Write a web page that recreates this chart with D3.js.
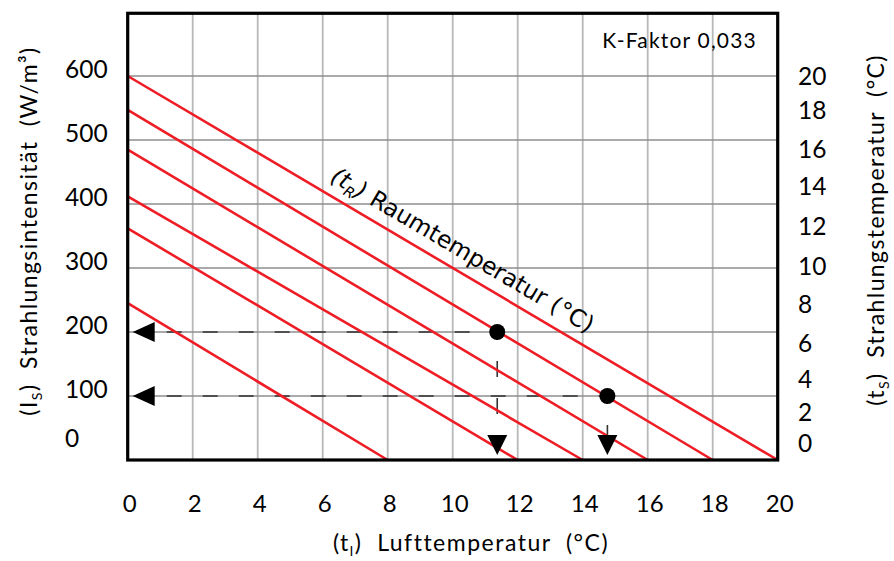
<!DOCTYPE html>
<html>
<head>
<meta charset="utf-8">
<script src="https://cdn.jsdelivr.net/npm/d3@7"></script>
<style>
	body { margin: 0; background: #fff; }
	text { font-family: Lato, 'Open Sans', sans-serif; fill: #000; }
	text.diag { font-family: 'DejaVu Sans', sans-serif; }
</style>
</head>
<body>
<script>
// room temperature lines: each runs from (0, radiation) down to (roomTemp, 0)
const roomTemps = [8, 12, 14, 16, 18, 20];
const radiationAtZero = [245, 362, 412, 485, 547, 600];

// the two read-off examples
const pointAirTemp = [11.37, 14.76];
const pointRadiation = [200, 100];

const xTicks = [0, 2, 4, 6, 8, 10, 12, 14, 16, 18, 20];
const yGrid = [100, 200, 300, 400, 500, 600];
const leftTickLabels = ['0', '100', '200', '300', '400', '500', '600'];
const leftTickAt = [23, 100, 200, 300, 400, 500, 600];
const rightTickLabels = ['0', '2', '4', '6', '8', '10', '12', '14', '16', '18', '20'];
const rightTickAt = [27, 75, 127, 183, 244, 303, 366, 428, 486, 547, 600];

const width = 894, height = 561;

let svg = d3.select('body').append('svg')
	.attr('width', width)
	.attr('height', height);

let x = d3.scaleLinear().domain([0, 20]).range([127.7, 777.7]);
let y = d3.scaleLinear().domain([0, 600]).range([460, 76]);
const yTop = y(698);

// grid
svg.append('g').selectAll('line')
	.data(xTicks.slice(1, -1))
	.enter()
	.append('line')
	.attr('x1', d => x(d)).attr('x2', d => x(d))
	.attr('y1', yTop).attr('y2', y(0))
	.attr('stroke', '#b8b8b8')
	.attr('stroke-width', 1.8);

svg.append('g').selectAll('line')
	.data(yGrid)
	.enter()
	.append('line')
	.attr('x1', x(0)).attr('x2', x(20))
	.attr('y1', d => y(d)).attr('y2', d => y(d))
	.attr('stroke', '#8e8e8e')
	.attr('stroke-width', 1.5);

// dashed read-off lines
let points = pointAirTemp.map((t, i) => ({ t: t, s: pointRadiation[i] }));

svg.append('g').selectAll('line')
	.data(points)
	.enter()
	.append('line')
	.attr('x1', x(0) + 27).attr('x2', d => x(d.t))
	.attr('y1', d => y(d.s)).attr('y2', d => y(d.s))
	.attr('stroke', '#333')
	.attr('stroke-width', 1.6)
	.attr('stroke-dasharray', '15,21')
	.attr('stroke-dashoffset', 24);

svg.append('g').selectAll('line')
	.data(points)
	.enter()
	.append('line')
	.attr('x1', d => x(d.t)).attr('x2', d => x(d.t))
	.attr('y1', d => y(d.s)).attr('y2', y(0) - 22)
	.attr('stroke', '#333')
	.attr('stroke-width', 1.6)
	.attr('stroke-dasharray', '16,21')
	.attr('stroke-dashoffset', 8);

// red lines
let lines = roomTemps.map((t, i) => ({ t: t, s: radiationAtZero[i] }));

svg.append('g').selectAll('line')
	.data(lines)
	.enter()
	.append('line')
	.attr('x1', x(0)).attr('y1', d => y(d.s))
	.attr('x2', d => x(d.t)).attr('y2', y(0))
	.attr('stroke', '#ee1d25')
	.attr('stroke-width', 2.6);

// arrow heads and dots
svg.append('g').selectAll('path')
	.data(points)
	.enter()
	.append('path')
	.attr('d', d => `M${x(0) + 5},${y(d.s)} L${x(0) + 27},${y(d.s) - 10} L${x(0) + 27},${y(d.s) + 10} Z`)
	.attr('fill', '#000');

svg.append('g').selectAll('path')
	.data(points)
	.enter()
	.append('path')
	.attr('d', d => `M${x(d.t)},${y(0) - 5} L${x(d.t) - 10},${y(0) - 25} L${x(d.t) + 10},${y(0) - 25} Z`)
	.attr('fill', '#000');

svg.append('g').selectAll('circle')
	.data(points)
	.enter()
	.append('circle')
	.attr('cx', d => x(d.t))
	.attr('cy', d => y(d.s))
	.attr('r', 8)
	.attr('fill', '#000');

// frame
svg.append('rect')
	.attr('x', x(0)).attr('y', yTop)
	.attr('width', x(20) - x(0))
	.attr('height', y(0) - yTop)
	.attr('fill', 'none')
	.attr('stroke', '#000')
	.attr('stroke-width', 3.2);

// tick labels
svg.append('g').selectAll('text')
	.data(xTicks)
	.enter()
	.append('text')
	.attr('x', d => x(d) + 2)
	.attr('y', 512)
	.attr('text-anchor', 'middle')
	.attr('font-size', 24)
	.text(d => d);

svg.append('g').selectAll('text')
	.data(leftTickLabels)
	.enter()
	.append('text')
	.attr('x', 65)
	.attr('y', (d, i) => y(leftTickAt[i]) + 2)
	.attr('font-size', 24.5)
	.text(d => d);

svg.append('g').selectAll('text')
	.data(rightTickLabels)
	.enter()
	.append('text')
	.attr('x', 798)
	.attr('y', (d, i) => y(rightTickAt[i]) + 9)
	.attr('font-size', 24.5)
	.text(d => d);

svg.append('text')
	.attr('x', 757)
	.attr('y', 48)
	.attr('text-anchor', 'end')
	.attr('font-size', 21)
	.attr('letter-spacing', 1.2)
	.text('K-Faktor 0,033');

// axis titles
function titleWithSub(sel, pre, sub, post) {
	sel.append('tspan').text(pre);
	sel.append('tspan').attr('font-size', '0.62em').attr('dy', 5).text(sub);
	sel.append('tspan').attr('dy', -5).text(post);
}

let xTitle = svg.append('text')
	.attr('x', 471)
	.attr('y', 551)
	.attr('text-anchor', 'middle')
	.attr('font-size', 23)
	.attr('letter-spacing', 1.5)
	.attr('xml:space', 'preserve');
titleWithSub(xTitle, '(t', 'l', ')  Lufttemperatur  (°C)');

let leftTitle = svg.append('text')
	.attr('transform', 'translate(37,231) rotate(-90)')
	.attr('text-anchor', 'middle')
	.attr('font-size', 23)
	.attr('letter-spacing', 1.4)
	.attr('xml:space', 'preserve');
titleWithSub(leftTitle, '(I', 'S', ')  Strahlungsintensität  (W/m³)');

let rightTitle = svg.append('text')
	.attr('transform', 'translate(884,230) rotate(-90)')
	.attr('text-anchor', 'middle')
	.attr('font-size', 23)
	.attr('letter-spacing', 1.4)
	.attr('xml:space', 'preserve');
titleWithSub(rightTitle, '(t', 'S', ')  Strahlungstemperatur  (°C)');

// diagonal label along the top room temperature line
const angle = Math.atan2(y(0) - y(600), x(20) - x(0)) * 180 / Math.PI;
const labelT = 6.0;
const labelS = 600 * (1 - labelT / 20);
let diag = svg.append('g')
	.attr('transform', `translate(${x(labelT)},${y(labelS)}) rotate(${angle})`)
	.append('text')
	.attr('class', 'diag')
	.attr('y', -12.5)
	.attr('font-size', 23.5)
	.attr('xml:space', 'preserve');
diag.append('tspan').attr('font-style', 'italic').text('(t');
diag.append('tspan').attr('font-style', 'italic').attr('font-size', '0.62em').attr('dy', 5).text('R');
diag.append('tspan').attr('font-style', 'italic').attr('dy', -5).text(')');
diag.append('tspan').text(' Raumtemperatur (°C)');
</script>
</body>
</html>
